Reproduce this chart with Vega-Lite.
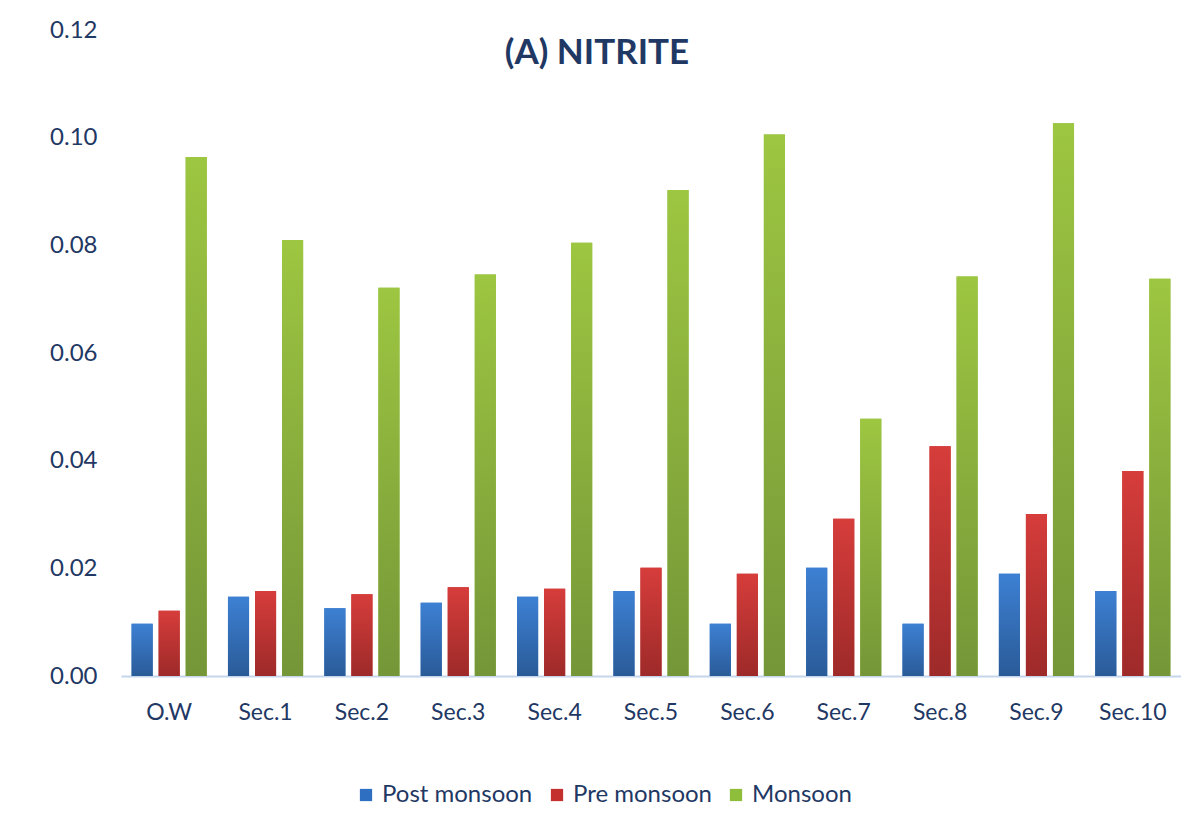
{
  "$schema": "https://vega.github.io/schema/vega-lite/v6.json",
  "width": 1060,
  "height": 646,
  "autosize": {"type": "none"},
  "padding": {"left": 121, "top": 30, "right": 0, "bottom": 156},
  "background": "white",
  "title": {"text": "(A) NITRITE", "font": "Lato", "fontSize": 35, "fontWeight": "bold", "color": "#1f3864", "anchor": "middle", "frame": "group", "dx": -54, "offset": -40, "dy": 48, "baseline": "bottom"},
  "data": {"values": [
    {"site": "O.W", "season": "Post monsoon", "value": 0.0097},
    {"site": "O.W", "season": "Pre monsoon", "value": 0.0121},
    {"site": "O.W", "season": "Monsoon", "value": 0.0964},
    {"site": "Sec.1", "season": "Post monsoon", "value": 0.0147},
    {"site": "Sec.1", "season": "Pre monsoon", "value": 0.0158},
    {"site": "Sec.1", "season": "Monsoon", "value": 0.0810},
    {"site": "Sec.2", "season": "Post monsoon", "value": 0.0126},
    {"site": "Sec.2", "season": "Pre monsoon", "value": 0.0152},
    {"site": "Sec.2", "season": "Monsoon", "value": 0.0721},
    {"site": "Sec.3", "season": "Post monsoon", "value": 0.0136},
    {"site": "Sec.3", "season": "Pre monsoon", "value": 0.0165},
    {"site": "Sec.3", "season": "Monsoon", "value": 0.0746},
    {"site": "Sec.4", "season": "Post monsoon", "value": 0.0147},
    {"site": "Sec.4", "season": "Pre monsoon", "value": 0.0162},
    {"site": "Sec.4", "season": "Monsoon", "value": 0.0805},
    {"site": "Sec.5", "season": "Post monsoon", "value": 0.0158},
    {"site": "Sec.5", "season": "Pre monsoon", "value": 0.0201},
    {"site": "Sec.5", "season": "Monsoon", "value": 0.0903},
    {"site": "Sec.6", "season": "Post monsoon", "value": 0.0097},
    {"site": "Sec.6", "season": "Pre monsoon", "value": 0.0190},
    {"site": "Sec.6", "season": "Monsoon", "value": 0.1006},
    {"site": "Sec.7", "season": "Post monsoon", "value": 0.0201},
    {"site": "Sec.7", "season": "Pre monsoon", "value": 0.0292},
    {"site": "Sec.7", "season": "Monsoon", "value": 0.0478},
    {"site": "Sec.8", "season": "Post monsoon", "value": 0.0097},
    {"site": "Sec.8", "season": "Pre monsoon", "value": 0.0427},
    {"site": "Sec.8", "season": "Monsoon", "value": 0.0742},
    {"site": "Sec.9", "season": "Post monsoon", "value": 0.0190},
    {"site": "Sec.9", "season": "Pre monsoon", "value": 0.0301},
    {"site": "Sec.9", "season": "Monsoon", "value": 0.1027},
    {"site": "Sec.10", "season": "Post monsoon", "value": 0.0158},
    {"site": "Sec.10", "season": "Pre monsoon", "value": 0.0381},
    {"site": "Sec.10", "season": "Monsoon", "value": 0.0738}
  ]},
  "encoding": {
    "x": {"field": "site", "type": "nominal", "sort": ["O.W", "Sec.1", "Sec.2", "Sec.3", "Sec.4", "Sec.5", "Sec.6", "Sec.7", "Sec.8", "Sec.9", "Sec.10"],
      "scale": {"paddingInner": 0.22, "paddingOuter": 0.11},
      "axis": {"title": null, "ticks": false, "domainColor": "#c5d6ec", "domainWidth": 2, "labelAngle": 0, "labelPadding": 25, "labelFont": "Lato", "labelFontSize": 23, "labelColor": "#1f3864"}},
    "xOffset": {"field": "season", "type": "nominal", "sort": ["Post monsoon", "Pre monsoon", "Monsoon"],
      "scale": {"domain": ["Post monsoon", "Pre monsoon", "Monsoon"], "paddingInner": 0.22}},
    "y": {"field": "value", "type": "quantitative", "scale": {"domain": [0, 0.12], "nice": false},
      "axis": {"title": null, "values": [0, 0.02, 0.04, 0.06, 0.08, 0.1, 0.12], "format": ".2f", "grid": false, "domain": false, "ticks": false, "labelPadding": 24, "labelFont": "Lato", "labelFontSize": 24, "labelColor": "#1f3864"}}
  },
  "layer": [
    {"mark": {"type": "bar"},
      "encoding": {"color": {"field": "season", "type": "nominal", "sort": ["Post monsoon", "Pre monsoon", "Monsoon"],
        "scale": {"domain": ["Post monsoon", "Pre monsoon", "Monsoon"], "range": ["#2f6fc2", "#c4302e", "#8fbd3c"]},
        "legend": {"orient": "none", "legendX": 233, "legendY": 753, "direction": "horizontal", "title": null, "symbolType": "square", "symbolSize": 150, "symbolStrokeWidth": 0, "labelFont": "Lato", "labelFontSize": 24, "labelColor": "#1f3864", "labelLimit": 300, "columnPadding": 12, "labelOffset": 4}}}},
    {"transform": [{"filter": "datum.season === 'Post monsoon'"}],
      "mark": {"type": "bar", "color": {"gradient": "linear", "x1": 0, "y1": 0, "x2": 0, "y2": 1, "stops": [{"offset": 0, "color": "#3d80d3"}, {"offset": 1, "color": "#2a5b98"}]}}},
    {"transform": [{"filter": "datum.season === 'Pre monsoon'"}],
      "mark": {"type": "bar", "color": {"gradient": "linear", "x1": 0, "y1": 0, "x2": 0, "y2": 1, "stops": [{"offset": 0, "color": "#d63d3b"}, {"offset": 1, "color": "#9d2a29"}]}}},
    {"transform": [{"filter": "datum.season === 'Monsoon'"}],
      "mark": {"type": "bar", "color": {"gradient": "linear", "x1": 0, "y1": 0, "x2": 0, "y2": 1, "stops": [{"offset": 0, "color": "#9dc641"}, {"offset": 1, "color": "#759638"}]}}}
  ],
  "config": {"view": {"stroke": null}}
}
